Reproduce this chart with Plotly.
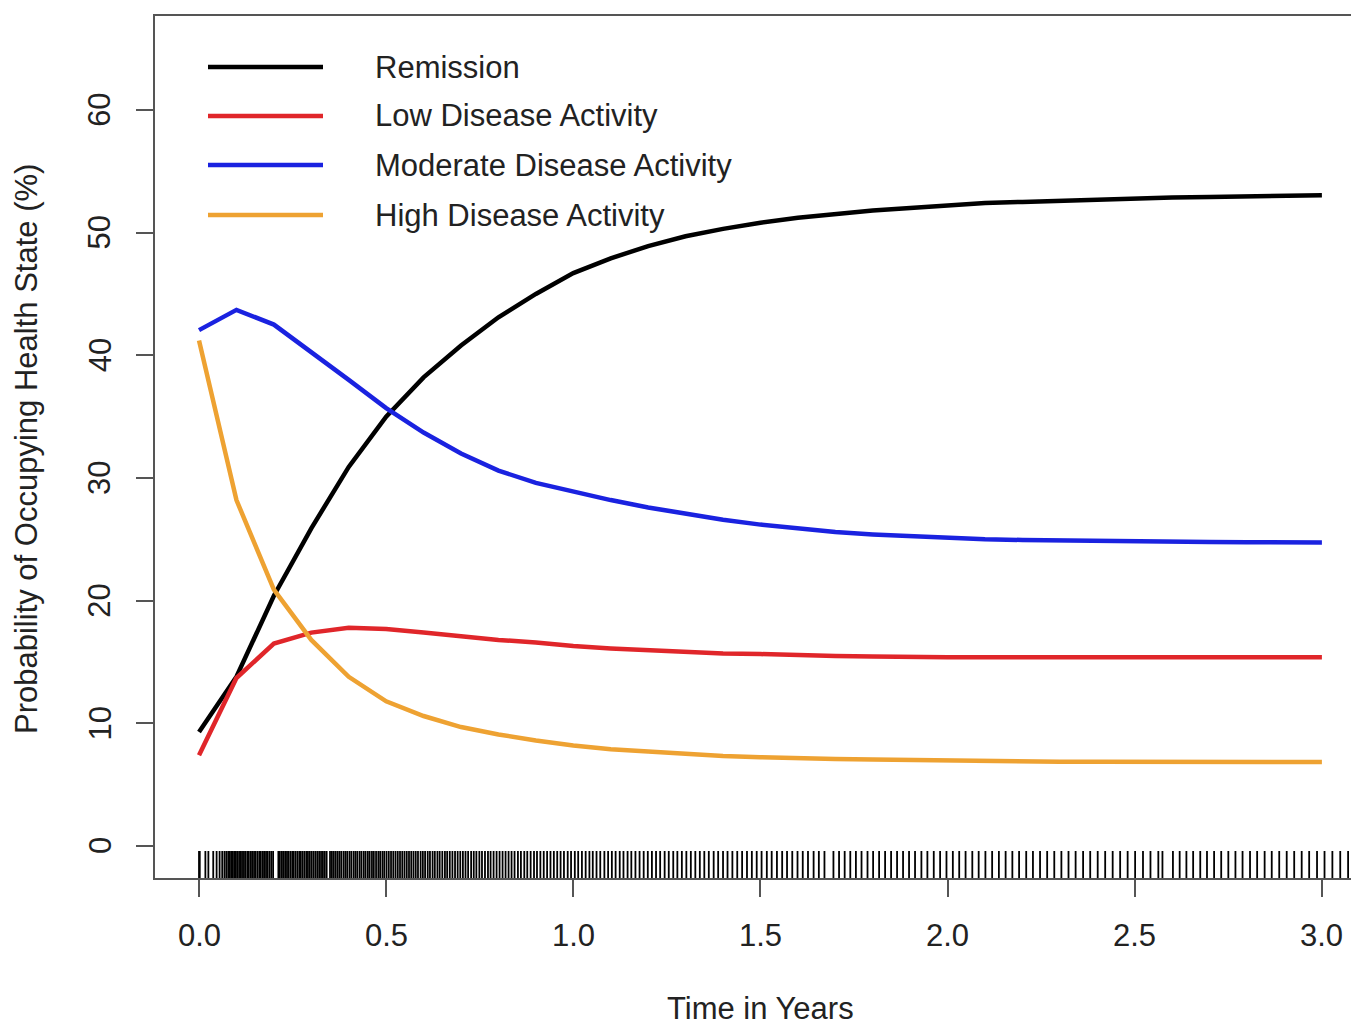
import plotly.graph_objects as go

# ---------------- data ----------------
years = [0.0, 0.1, 0.2, 0.3, 0.4, 0.5, 0.6, 0.7, 0.8, 0.9, 1.0,
         1.1, 1.2, 1.3, 1.4, 1.5, 1.6, 1.7, 1.8, 1.9, 2.0,
         2.1, 2.2, 2.3, 2.4, 2.5, 2.6, 2.7, 2.8, 2.9, 3.0]

remission = [9.3, 13.8, 20.4, 25.9, 30.9, 35.0, 38.2, 40.8, 43.1, 45.0, 46.7,
             47.9, 48.9, 49.7, 50.3, 50.8, 51.2, 51.5, 51.8, 52.0, 52.2,
             52.4, 52.5, 52.6, 52.7, 52.8, 52.85, 52.9, 52.95, 53.0, 53.05]

low_activity = [7.4, 13.7, 16.5, 17.4, 17.8, 17.7, 17.4, 17.1, 16.8, 16.6, 16.3,
                16.1, 15.95, 15.8, 15.7, 15.65, 15.55, 15.5, 15.45, 15.4, 15.4,
                15.4, 15.4, 15.4, 15.4, 15.4, 15.4, 15.4, 15.4, 15.4, 15.4]

moderate_activity = [42.05, 43.7, 42.5, 40.3, 38.0, 35.7, 33.7, 32.0, 30.6, 29.6, 28.9,
                     28.2, 27.6, 27.1, 26.6, 26.2, 25.9, 25.6, 25.4, 25.25, 25.1,
                     25.0, 24.95, 24.9, 24.85, 24.82, 24.8, 24.78, 24.77, 24.76, 24.75]

high_activity = [41.2, 28.2, 20.9, 16.8, 13.8, 11.8, 10.6, 9.7, 9.1, 8.6, 8.2,
                 7.9, 7.7, 7.5, 7.35, 7.25, 7.15, 7.1, 7.05, 7.0, 6.95,
                 6.92, 6.9, 6.88, 6.87, 6.86, 6.85, 6.85, 6.85, 6.85, 6.85]

series_names = ["Remission", "Low Disease Activity",
                "Moderate Disease Activity", "High Disease Activity"]

# observed event times (rug)
rug_times = [
    0.0, 0.002, 0.017, 0.025, 0.038, 0.047, 0.055, 0.062, 0.068, 0.073, 0.078, 0.082,
    0.086, 0.09, 0.094, 0.098,
    0.102, 0.107, 0.111, 0.115, 0.12, 0.124, 0.129, 0.133, 0.138, 0.142, 0.147, 0.151,
    0.156, 0.161, 0.165, 0.17, 0.174, 0.179, 0.183, 0.188, 0.193, 0.198,
    0.212, 0.216, 0.221, 0.225, 0.23, 0.235, 0.239, 0.244, 0.249, 0.253, 0.258, 0.263,
    0.268, 0.272, 0.277, 0.282, 0.287, 0.291, 0.296,
    0.301, 0.306, 0.311, 0.316, 0.321, 0.326, 0.331, 0.336, 0.341, 0.35, 0.355, 0.36,
    0.365, 0.37, 0.375, 0.38, 0.386, 0.391, 0.396,
    0.402, 0.407, 0.413, 0.418, 0.423, 0.429, 0.434, 0.44, 0.445, 0.451, 0.456, 0.462,
    0.467, 0.473, 0.479, 0.484, 0.49, 0.495,
    0.501, 0.507, 0.513, 0.519, 0.525, 0.531, 0.537, 0.543, 0.549, 0.555, 0.561, 0.567,
    0.573, 0.579, 0.585, 0.592, 0.598,
    0.604, 0.611, 0.617, 0.624, 0.63, 0.637, 0.643, 0.65, 0.657, 0.663, 0.67, 0.677,
    0.684, 0.691, 0.698,
    0.705, 0.712, 0.719, 0.727, 0.734, 0.741, 0.749, 0.756, 0.764, 0.772, 0.779, 0.787, 0.795,
    0.803, 0.811, 0.819, 0.827, 0.835, 0.843, 0.852, 0.86, 0.869, 0.877, 0.886, 0.895,
    0.903, 0.912, 0.921, 0.93, 0.939, 0.948, 0.957, 0.966, 0.975, 0.985, 0.994,
    1.004, 1.013, 1.023, 1.033, 1.043, 1.052, 1.062, 1.072, 1.083, 1.093, 1.103, 1.113,
    1.124, 1.134, 1.145, 1.155, 1.166, 1.177, 1.188, 1.199,
    1.21, 1.221, 1.232, 1.244, 1.255, 1.267, 1.278, 1.29, 1.302, 1.314, 1.326, 1.338,
    1.35, 1.362, 1.375, 1.387, 1.4, 1.412, 1.425, 1.438, 1.451, 1.464, 1.477, 1.49,
    1.503, 1.517, 1.53, 1.544, 1.558, 1.571, 1.585, 1.599, 1.613, 1.627, 1.642, 1.656,
    1.671, 1.695, 1.71, 1.725, 1.74, 1.755, 1.77, 1.786, 1.801, 1.817, 1.833, 1.849,
    1.865, 1.881, 1.897, 1.913, 1.93, 1.946, 1.963, 1.98, 1.997,
    2.014, 2.031, 2.048, 2.066, 2.083, 2.101, 2.119, 2.137, 2.155, 2.173, 2.191, 2.21,
    2.228, 2.247, 2.266, 2.285, 2.304, 2.323, 2.342, 2.362, 2.381, 2.401, 2.421, 2.441,
    2.461, 2.481, 2.501, 2.522, 2.542, 2.563, 2.574,
    2.602, 2.62, 2.638, 2.656, 2.675, 2.693, 2.712, 2.731, 2.75, 2.769, 2.788, 2.808,
    2.827, 2.847, 2.866, 2.886, 2.906, 2.926, 2.946, 2.966, 2.987, 3.007, 3.028, 3.049,
    3.07, 3.09, 3.105,
]

x_tick_vals = [0.0, 0.5, 1.0, 1.5, 2.0, 2.5, 3.0]
x_tick_text = ["0.0", "0.5", "1.0", "1.5", "2.0", "2.5", "3.0"]
y_tick_vals = [0, 10, 20, 30, 40, 50, 60]
y_tick_text = ["0", "10", "20", "30", "40", "50", "60"]

# ---------------- style ----------------
colors = ["#000000", "#e0262a", "#1a22e0", "#eea232"]
FONT = "Liberation Sans, Arial, Helvetica, sans-serif"
TXT = "#222222"
AX = "#555555"
FS = 31

fig = go.Figure()

# rug
rx, ry = [], []
for t in rug_times:
    rx += [t, t, None]
    ry += [-2.6, -0.4, None]
fig.add_trace(go.Scatter(x=rx, y=ry, mode="lines",
                         line=dict(color="black", width=1.8),
                         hoverinfo="skip", showlegend=False))

for name, vals, col in zip(series_names,
                           [remission, low_activity, moderate_activity, high_activity],
                           colors):
    fig.add_trace(go.Scatter(x=years, y=vals, mode="lines", name=name,
                             line=dict(color=col, width=4.5), showlegend=False))

annotations = []
for v, t in zip(x_tick_vals, x_tick_text):
    annotations.append(dict(x=v, y=0, xref="x", yref="paper", text=t, showarrow=False,
                            yanchor="middle", xanchor="center", yshift=-57,
                            font=dict(family=FONT, size=FS, color=TXT)))
for v, t in zip(y_tick_vals, y_tick_text):
    annotations.append(dict(x=0, y=v, xref="paper", yref="y", text=t, showarrow=False,
                            textangle=-90, xanchor="center", yanchor="middle", xshift=-55,
                            font=dict(family=FONT, size=FS, color=TXT)))

annotations.append(dict(x=1.5, y=0, xref="x", yref="paper", text="Time in Years",
                        showarrow=False, xanchor="center", yanchor="middle", yshift=-130,
                        font=dict(family=FONT, size=FS, color=TXT)))
annotations.append(dict(x=0, y=0.4977, xref="paper", yref="paper",
                        text="Probability of Occupying Health State (%)",
                        showarrow=False, textangle=-90, xanchor="center", yanchor="middle",
                        xshift=-128, font=dict(family=FONT, size=FS, color=TXT)))

# manual legend (positions in paper coords of the plot area)
leg_y = [0.9408, 0.8840, 0.8271, 0.7691]
PW = 1212.0
shapes = []
for name, col, yy in zip(series_names, colors, leg_y):
    shapes.append(dict(type="line", xref="paper", yref="paper", x0=53 / PW, x1=168 / PW,
                       y0=yy, y1=yy, line=dict(color=col, width=4.5)))
    annotations.append(dict(x=218 / PW, y=yy, xref="paper", yref="paper", text=name,
                            showarrow=False, xanchor="left", yanchor="middle",
                            font=dict(family=FONT, size=FS, color=TXT)))

# page body has an 8px default margin: shift figure up/left to compensate
fig.update_layout(
    width=1359, height=1021,
    margin=dict(l=147, r=0, t=8, b=151),
    paper_bgcolor="white", plot_bgcolor="white",
    showlegend=False,
    annotations=annotations, shapes=shapes,
    xaxis=dict(range=[-0.1176, 3.1205], tickvals=x_tick_vals, showticklabels=False,
               ticks="outside", ticklen=17, tickwidth=1.5, tickcolor=AX,
               showline=True, linecolor=AX, linewidth=1.5, mirror=True,
               showgrid=False, zeroline=False),
    yaxis=dict(range=[-2.6, 67.65], tickvals=y_tick_vals, showticklabels=False,
               ticks="outside", ticklen=17, tickwidth=1.5, tickcolor=AX,
               showline=True, linecolor=AX, linewidth=1.5,
               showgrid=False, zeroline=False),
)

fig.write_html("out.html")
